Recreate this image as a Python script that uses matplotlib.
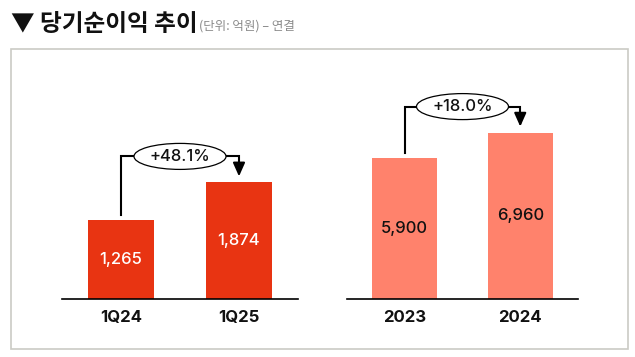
import matplotlib
matplotlib.use("Agg")
import matplotlib.pyplot as plt
from matplotlib.patches import Ellipse, Rectangle

plt.rcParams['font.family'] = ['Inter', 'Noto Sans CJK KR', 'DejaVu Sans']

# data
q_labels = ["1Q24", "1Q25"]
q_values = [1265, 1874]
q_change = "+48.1%"
y_labels = ["2023", "2024"]
y_values = [5900, 6960]
y_change = "+18.0%"

title = "▼ 당기순이익 추이"
subtitle = "(단위: 억원) – 연결"

W, H = 635, 357
fig = plt.figure(figsize=(W / 100, H / 100), dpi=100)

# outer frame
fig.patches.append(Rectangle((11 / W, 8 / H), 617 / W, 300 / H, transform=fig.transFigure,
                             fill=False, edgecolor='#cbcbc5', linewidth=1.2))

t = fig.text(11 / W, 1 - 31 / H, title, fontsize=17, fontweight='bold',
             family=['Noto Sans CJK KR', 'DejaVu Sans'], va='baseline', ha='left', color='#111111')
fig.canvas.draw()
bb = t.get_window_extent()
fig.text(bb.x1 / W + 1 / W, 1 - 30 / H, subtitle, fontsize=9, color='#8a8a8a',
         family=['Noto Sans CJK KR', 'DejaVu Sans'], va='baseline', ha='left')

AX_H = 219  # px
bottom = 58 / H


def panel(left_px, width_px, labels, values, ymax, color, text_color, change):
    ax = fig.add_axes([left_px / W, bottom, width_px / W, AX_H / H])
    x = [0, 1]
    ax.bar(x, values, width=0.56, color=color)
    ax.set_xlim(-0.5, 1.5)
    ax.set_ylim(0, ymax)
    for s in ['top', 'right', 'left']:
        ax.spines[s].set_visible(False)
    ax.spines['bottom'].set_linewidth(1.2)
    ax.set_yticks([])
    ax.set_xticks(x)
    ax.set_xticklabels(labels, fontsize=12, fontweight='bold', color='#111111')
    ax.tick_params(axis='x', length=0, pad=8)
    for xi, v in zip(x, values):
        ax.text(xi, v / 2, f"{v:,}", ha='center', va='center', fontsize=12,
                fontweight='medium', color=text_color)

    # bracket with growth bubble
    ppy = AX_H / ymax
    ppx = width_px / 2.0
    y0 = values[0] + 5 / ppy
    ytop = max(values) + 26 / ppy
    ytip = values[1] + 6 / ppy
    ew = 92 / ppx
    eh = 26 / ppy
    ax.plot([0, 0, 0.5 - ew / 2], [y0, ytop, ytop], color='black', lw=1.5,
            solid_joinstyle='miter', clip_on=False)
    ax.plot([0.5 + ew / 2, 1, 1], [ytop, ytop, ytip + 8 / ppy], color='black', lw=1.5,
            solid_joinstyle='miter', clip_on=False)
    ax.annotate("", xy=(1, ytip), xytext=(1, ytop - 10 / ppy),
                arrowprops=dict(arrowstyle='-|>,head_length=0.45,head_width=0.2',
                                color='black', lw=1.5, mutation_scale=18,
                                shrinkA=0, shrinkB=0))
    ax.add_patch(Ellipse((0.5, ytop), ew, eh, facecolor='white', edgecolor='black',
                         lw=0.9, clip_on=False, zorder=3))
    ax.text(0.5, ytop, change, ha='center', va='center', fontsize=12,
            fontweight='medium', color='#111111', zorder=4)
    return ax


panel(62, 236, q_labels, q_values, 3520, '#e83412', 'white', q_change)
panel(347, 231, y_labels, y_values, 9160, '#ff826c', '#111111', y_change)

fig.savefig("out.png", dpi=100)
